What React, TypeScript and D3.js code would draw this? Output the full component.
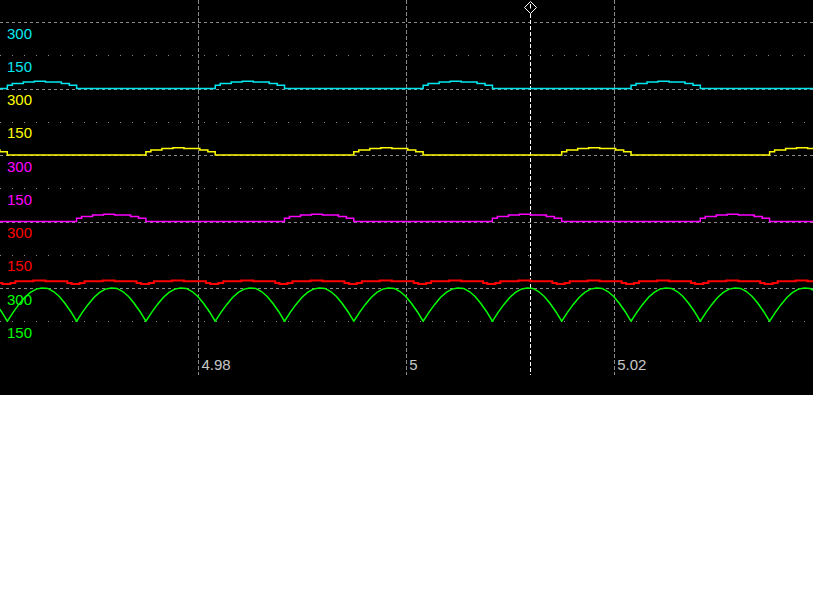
import React from "react";
import * as d3 from "d3";

const WIDTH = 813;
const HEIGHT = 600;
const PLOT_H = 395;

// time axis
const TIME_DOMAIN = [4.960914, 5.039125];
const TIME_TICKS = [4.98, 5, 5.02];
const TIME_TICK_LABELS = ["4.98", "5", "5.02"];
const CURSOR_TIME = 5.01193;

// per-channel axis labels
const AXIS_VALUES = [300, 150];
const AXIS_LABELS = ["300", "150"];

const CHANNEL_COLORS = ["#00e8f0", "#ffff00", "#ff00ff", "#ff0000", "#00ff00"];

// pulse start times of each phase current (s)
const PHASE_A_STARTS = [4.96162, 4.98162, 5.00162, 5.02162];
const PHASE_B_STARTS = [4.96828, 4.98828, 5.00828, 5.02828];
const PHASE_C_STARTS = [4.95495, 4.97495, 4.99495, 5.01495, 5.03495];

// phase current pulse (stepped): offset from pulse start (ms) and value
const PULSE_OFFSETS_MS = [0, 0.48, 1.54, 2.6, 3.66, 5.19, 5.96, 6.667];
const PULSE_VALUES = [15, 22, 29, 33, 29, 22, 15, 0];

// DC current (stepped) per commutation interval: offset (ms) and value
const DC_OFFSETS_MS = [-0.48, 0.29, 0.77, 2.5, 3.66, 5.77];
const DC_VALUES = [18, 22, 30, 34, 30, 22];

// DC voltage arc per commutation interval (equally spaced samples)
const VOLT_ARC = [150, 190, 226, 257, 280, 295, 300, 298, 284, 262, 230, 193, 150];
const INTERVAL_MS = 6.667;

const BAND = 66.5;
const ZERO_TOP = 88.5;

type Pt = [number, number];

function pulseSeries(starts: number[]): Pt[] {
  const pts: Pt[] = [[4.94, 0]];
  starts.forEach((s) => {
    PULSE_OFFSETS_MS.forEach((o, i) => pts.push([s + o / 1000, PULSE_VALUES[i]]));
  });
  pts.push([5.06, 0]);
  return pts;
}

export default function App() {
  const x = d3.scaleLinear().domain(TIME_DOMAIN).range([0, WIDTH]);
  const yScales = CHANNEL_COLORS.map((_, i) =>
    d3
      .scaleLinear()
      .domain([0, 300])
      .range([ZERO_TOP + i * BAND, ZERO_TOP + i * BAND - BAND])
  );

  const boundaries = [...PHASE_A_STARTS, ...PHASE_B_STARTS, ...PHASE_C_STARTS].sort(
    (a, b) => a - b
  );

  const dcCurrent: Pt[] = [];
  boundaries.forEach((b) => {
    DC_OFFSETS_MS.forEach((o, i) => dcCurrent.push([b + o / 1000, DC_VALUES[i]]));
  });
  dcCurrent.push([5.06, DC_VALUES[0]]);

  const dcVoltage: Pt[] = [];
  boundaries.forEach((b) => {
    VOLT_ARC.forEach((v, j) => {
      dcVoltage.push([b + ((j / (VOLT_ARC.length - 1)) * INTERVAL_MS) / 1000, v]);
    });
  });

  const series: { data: Pt[]; step: boolean }[] = [
    { data: pulseSeries(PHASE_A_STARTS), step: true },
    { data: pulseSeries(PHASE_C_STARTS), step: true },
    { data: pulseSeries(PHASE_B_STARTS), step: true },
    { data: dcCurrent, step: true },
    { data: dcVoltage, step: false },
  ];

  const lines = series.map((s, i) =>
    d3
      .line<Pt>()
      .x((d) => x(d[0]))
      .y((d) => yScales[i](d[1]))
      .curve(s.step ? d3.curveStepAfter : d3.curveLinear)(s.data) || ""
  );

  const cx = x(CURSOR_TIME);
  const font = "'Liberation Sans', Arial, sans-serif";

  return (
    <svg
      width={WIDTH}
      height={HEIGHT}
      style={{ position: "absolute", left: 0, top: 0, display: "block" }}
    >
      <defs>
        <clipPath id="plotclip">
          <rect x={0} y={0} width={WIDTH} height={PLOT_H} />
        </clipPath>
      </defs>
      <rect x={0} y={0} width={WIDTH} height={HEIGHT} fill="#ffffff" />
      <rect x={0} y={0} width={WIDTH} height={PLOT_H} fill="#000000" />

      {/* horizontal grid */}
      {yScales.map((ys, i) =>
        AXIS_VALUES.map((v, k) => (
          <line
            key={`h${i}-${k}`}
            x1={0}
            x2={WIDTH}
            y1={Math.round(ys(v)) + 0.5}
            y2={Math.round(ys(v)) + 0.5}
            stroke="#8a8a8a"
            strokeWidth={1}
            strokeDasharray={k === 0 ? "3,3" : "1,11"}
          />
        ))
      )}

      {/* vertical grid */}
      {TIME_TICKS.map((t, i) => (
        <line
          key={`v${i}`}
          x1={Math.round(x(t)) + 0.5}
          x2={Math.round(x(t)) + 0.5}
          y1={0}
          y2={375}
          stroke="#8a8a8a"
          strokeWidth={1}
          strokeDasharray="4,2"
        />
      ))}

      {/* cursor */}
      <line
        x1={Math.round(cx) + 0.5}
        x2={Math.round(cx) + 0.5}
        y1={14}
        y2={375}
        stroke="#ffffff"
        strokeWidth={1}
        strokeDasharray="4,2"
      />
      <path
        d={`M${Math.round(cx) + 0.5},1.5 L${Math.round(cx) + 6.5},7.5 L${Math.round(cx) + 0.5},13.5 L${Math.round(cx) - 5.5},7.5 Z`}
        fill="none"
        stroke="#ffffff"
        strokeWidth={1}
      />
      <line
        x1={Math.round(cx) + 0.5}
        x2={Math.round(cx) + 0.5}
        y1={4}
        y2={8.5}
        stroke="#ffffff"
        strokeWidth={1}
      />

      {/* traces */}
      <g clipPath="url(#plotclip)">
        {lines.map((d, i) => (
          <path
            key={`s${i}`}
            d={d}
            fill="none"
            stroke={CHANNEL_COLORS[i]}
            strokeWidth={i === 3 ? 2 : 1.5}
          />
        ))}
      </g>

      {/* channel axis labels */}
      {yScales.map((ys, i) =>
        AXIS_VALUES.map((v, k) => (
          <text
            key={`l${i}-${k}`}
            x={7}
            y={ys(v) + 16.5}
            fill={CHANNEL_COLORS[i]}
            fontFamily={font}
            fontSize={15}
          >
            {AXIS_LABELS[k]}
          </text>
        ))
      )}

      {/* time tick labels */}
      {TIME_TICKS.map((t, i) => (
        <text
          key={`t${i}`}
          x={x(t) + 3}
          y={369.5}
          fill="#c8c8c8"
          fontFamily={font}
          fontSize={15}
        >
          {TIME_TICK_LABELS[i]}
        </text>
      ))}
    </svg>
  );
}
